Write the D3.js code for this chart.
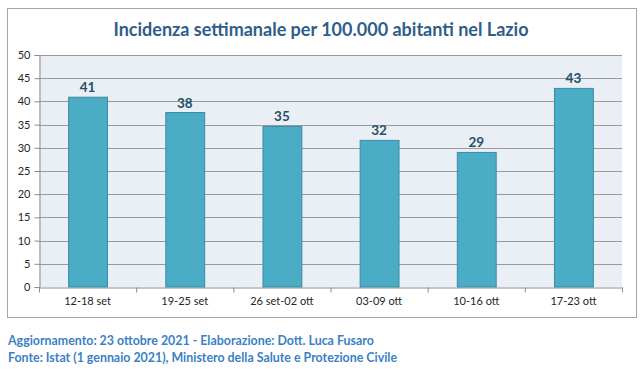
<!DOCTYPE html>
<html>
<head>
<meta charset="utf-8">
<script src="https://cdn.jsdelivr.net/npm/d3@7"></script>
<style>
  body { margin: 0; background: #fff; }
  svg { display: block; }
  text { font-family: Lato, "Open Sans", sans-serif; }
</style>
</head>
<body>
<div id="container"></div>
<script>
/* DATA */
const weeks = ["12-18 set", "19-25 set", "26 set-02 ott", "03-09 ott", "10-16 ott", "17-23 ott"];
const incidence = [40.9, 37.6, 34.6, 31.6, 29.0, 42.8];
const labels = ["41", "38", "35", "32", "29", "43"];
const yTicks = [0, 5, 10, 15, 20, 25, 30, 35, 40, 45, 50];

const title = "Incidenza settimanale per 100.000 abitanti nel Lazio";
const footer = [
  "Aggiornamento: 23 ottobre 2021 - Elaborazione: Dott. Luca Fusaro",
  "Fonte: Istat (1 gennaio 2021), Ministero della Salute e Protezione Civile"
];

/* CONSTANTS */
const width = 644, height = 372;
const margin = { top: 55, bottom: 85, left: 39, right: 22 };

const svg = d3.select("#container")
  .append("svg")
  .attr("width", width)
  .attr("height", height);

// outer chart frame
svg.append("rect")
  .attr("x", 7.5).attr("y", 8.5)
  .attr("width", 629).attr("height", 309)
  .attr("fill", "#fff")
  .attr("stroke", "#a6a6a6");

svg.append("text")
  .attr("x", 321).attr("y", 36)
  .attr("text-anchor", "middle")
  .attr("font-size", 18)
  .attr("font-weight", "bold")
  .attr("fill", "#2f5d8a")
  .text(title);

// SCALES
const xScale = d3.scaleBand()
  .domain(weeks)
  .range([margin.left, width - margin.right])
  .paddingInner(0.6)
  .paddingOuter(0.3);

const yScale = d3.scaleLinear()
  .domain([0, 50])
  .range([height - margin.bottom, margin.top]);

// plot background
svg.append("rect")
  .attr("x", margin.left).attr("y", margin.top)
  .attr("width", width - margin.right - margin.left)
  .attr("height", yScale(0) - margin.top)
  .attr("fill", "#e9eff4");

// gridlines
svg.append("g")
  .selectAll("line")
  .data(yTicks.filter(d => d > 0))
  .join("line")
  .attr("x1", margin.left).attr("x2", width - margin.right)
  .attr("y1", d => Math.round(yScale(d)) + 0.5)
  .attr("y2", d => Math.round(yScale(d)) + 0.5)
  .attr("stroke", "#9a9a9a");

// AXES
const yAxis = d3.axisLeft(yScale)
  .tickValues(yTicks)
  .tickSize(5)
  .tickPadding(4);

const yAxisGroup = svg.append("g")
  .attr("transform", `translate(${margin.left + 0.5}, 0)`)
  .call(yAxis);

const xAxis = d3.axisBottom(xScale)
  .tickSize(0)
  .tickPadding(10);

const xAxisGroup = svg.append("g")
  .attr("transform", `translate(0, ${Math.round(yScale(0)) + 0.5})`)
  .call(xAxis);

// tick marks between categories
const step = xScale.step();
xAxisGroup.append("g")
  .selectAll("line")
  .data(d3.range(weeks.length + 1))
  .join("line")
  .attr("x1", i => margin.left + i * step + 0.5)
  .attr("x2", i => margin.left + i * step + 0.5)
  .attr("y1", 0).attr("y2", 5)
  .attr("stroke", "#8c8c8c");

[yAxisGroup, xAxisGroup].forEach(g => {
  g.select(".domain").attr("stroke", "#8c8c8c");
  g.selectAll(".tick line").attr("stroke", "#8c8c8c");
  g.selectAll("text")
    .attr("font-size", 11)
    .attr("fill", "#262626")
    .style("font-family", "Lato, 'Open Sans', sans-serif");
});

// BARS
svg.append("g")
  .selectAll("rect")
  .data(incidence)
  .join("rect")
  .attr("x", (d, i) => xScale(weeks[i]) + 0.5)
  .attr("y", d => yScale(d))
  .attr("width", xScale.bandwidth())
  .attr("height", d => yScale(0) - yScale(d))
  .attr("fill", "#4bacc6")
  .attr("stroke", "#3a8ca5");

// data labels
svg.append("g")
  .selectAll("text")
  .data(incidence)
  .join("text")
  .attr("x", (d, i) => xScale(weeks[i]) + xScale.bandwidth() / 2)
  .attr("y", d => yScale(d) - 5)
  .attr("text-anchor", "middle")
  .attr("font-size", 13.5)
  .attr("font-weight", "bold")
  .attr("fill", "#24506b")
  .text((d, i) => labels[i]);

// footer
svg.append("g")
  .selectAll("text")
  .data(footer)
  .join("text")
  .attr("x", 8)
  .attr("y", (d, i) => 345 + i * 17)
  .attr("font-size", 12.4)
  .attr("font-weight", "bold")
  .attr("fill", "#3b7fc4")
  .text(d => d);
</script>
</body>
</html>
